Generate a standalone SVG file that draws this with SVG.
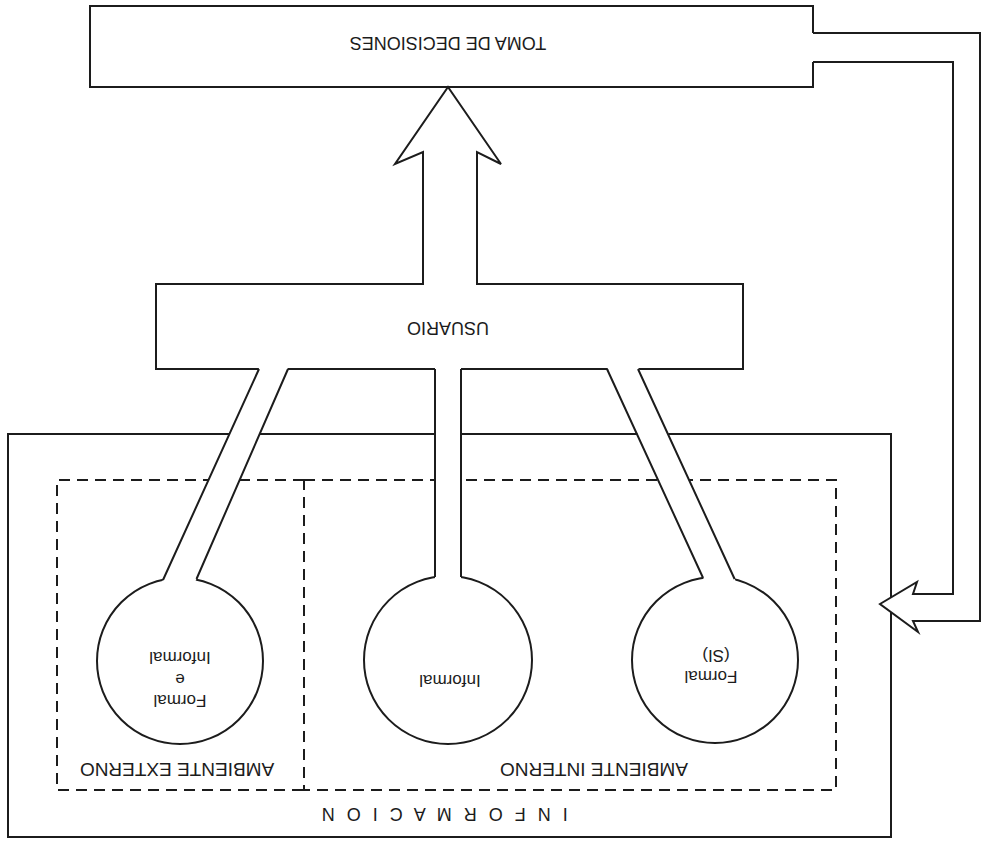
<svg xmlns="http://www.w3.org/2000/svg" width="988" height="842" viewBox="0 0 988 842">
  <style>
    .line { fill: none; stroke: #1c1c1c; stroke-width: 2; stroke-linejoin: miter; }
    .shape { fill: #ffffff; stroke: #1c1c1c; stroke-width: 2; stroke-linejoin: miter; }
    .dash { fill: none; stroke: #1c1c1c; stroke-width: 2; stroke-dasharray: 11 7; }
    .cover { fill: #ffffff; stroke: none; }
    .lbl { font-family: "Liberation Sans", Arial, sans-serif; fill: #1c1c1c; text-anchor: middle; }
    .big { font-size: 19px; }
    .mid { font-size: 18px; }
    .small { font-size: 17px; }
  </style>
  <rect width="988" height="842" fill="#ffffff"/>

  <!-- outer information frame with both environments -->
  <g id="informacion">
    <rect class="line" x="8" y="434" width="883" height="403"/>
    <text class="lbl mid" x="443" y="808" letter-spacing="3.5" transform="rotate(180 443 808)">I N F O R M A C I O N</text>
  </g>
  <g id="ambiente-externo">
    <path class="dash" d="M304,480 H57 V790 H304"/>
    <text class="lbl big" x="177" y="763" transform="rotate(180 177 763)">AMBIENTE EXTERNO</text>
  </g>
  <g id="ambiente-interno">
    <path class="dash" d="M304,480 H836 V790 H304 Z"/>
    <text class="lbl big" x="594" y="763" transform="rotate(180 594 763)">AMBIENTE INTERNO</text>
  </g>

  <!-- information sources -->
  <g id="fuente-externa">
    <circle class="shape" cx="180" cy="661" r="83"/>
    <text class="lbl small" x="180" y="652" transform="rotate(180 180 652)">Informal</text>
    <text class="lbl small" x="180" y="674" transform="rotate(180 180 674)">e</text>
    <text class="lbl small" x="180" y="695" transform="rotate(180 180 695)">Formal</text>
  </g>
  <g id="fuente-informal">
    <circle class="shape" cx="448" cy="660" r="84"/>
    <text class="lbl small" x="450" y="675" transform="rotate(180 450 675)">Informal</text>
  </g>
  <g id="fuente-formal">
    <circle class="shape" cx="715" cy="660" r="83"/>
    <text class="lbl small" x="716" y="650" transform="rotate(180 716 650)">(SI)</text>
    <text class="lbl small" x="711" y="671" transform="rotate(180 711 671)">Formal</text>
  </g>

  <!-- user -->
  <g id="usuario">
    <rect class="line" x="156" y="284" width="587" height="85"/>
    <text class="lbl mid" x="448" y="322" transform="rotate(180 448 322)">USUARIO</text>
  </g>

  <!-- decision making -->
  <g id="toma-de-decisiones">
    <path class="line" d="M813,33 V6 H90 V87 H813 V62"/>
    <text class="lbl mid" x="448" y="37" transform="rotate(180 448 37)">TOMA DE DECISIONES</text>
  </g>

  <!-- channels and arrows -->
  <g id="conectores">
    <!-- source channels into the user box -->
    <polygon class="cover" points="259.5,367 288.4,367 191.6,590 158.4,590"/>
    <path class="line" d="M259,369 L163,580 M288,369 L196.5,579"/>

    <polygon class="cover" points="435,367 461,367 461,590 435,590"/>
    <path class="line" d="M435,369 V577 M461,369 V577"/>

    <polygon class="cover" points="607,367 638,367 739.7,590 708.7,590"/>
    <path class="line" d="M607,369 L703.1,578 M638,369 L734.6,579"/>

    <!-- user to decision making -->
    <path class="shape" d="M423,285 V152 L395,164 L448,87 L501,164 L477,152 V285"/>

    <!-- feedback from decisions back to information -->
    <path class="shape" d="M813,33 H980 V621 H913 L918,632 L880,604 L917,582 L913,594 H953 V62 H813"/>
  </g>
</svg>
